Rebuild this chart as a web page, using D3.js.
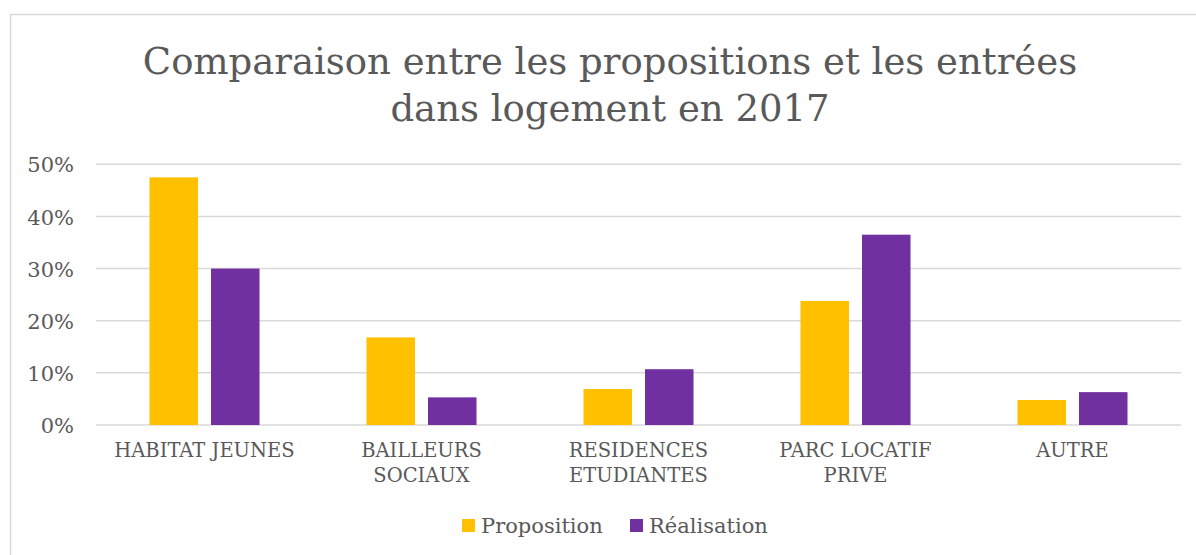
<!DOCTYPE html>
<html>
<head>
<meta charset="utf-8">
<script src="https://cdn.jsdelivr.net/npm/d3@7"></script>
<style>
  body { margin: 0; background: #fff; }
  text { font-family: "DejaVu Serif", serif; fill: #595959; }
</style>
</head>
<body>
<div id="app"></div>
<script>
// data
const categories = ["HABITAT JEUNES", "BAILLEURS SOCIAUX", "RESIDENCES ETUDIANTES", "PARC LOCATIF PRIVE", "AUTRE"];
const categoryLines = [["HABITAT JEUNES"], ["BAILLEURS", "SOCIAUX"], ["RESIDENCES", "ETUDIANTES"], ["PARC LOCATIF", "PRIVE"], ["AUTRE"]];
const seriesNames = ["Proposition", "Réalisation"];
const proposition = [0.475, 0.168, 0.069, 0.238, 0.048];
const realisation = [0.300, 0.053, 0.107, 0.365, 0.063];
const yTicks = [0, 0.1, 0.2, 0.3, 0.4, 0.5];
const titleLines = ["Comparaison entre les propositions et les entrées", "dans logement en 2017"];

const width = 1196
    , height = 555
    , colors = ["#FFC000", "#7030A0"];

const svg = d3.select("#app").append("svg")
    .attr("width", width)
    .attr("height", height);

// chart frame
svg.append("rect")
    .attr("x", 10.5).attr("y", 14.5)
    .attr("width", 1300).attr("height", 700)
    .attr("fill", "none")
    .attr("stroke", "#D9D9D9")
    .attr("stroke-width", 1.5);

const x0 = d3.scaleBand()
    .domain(categories)
    .range([96, 1181])
    .paddingInner(0.493)
    .paddingOuter(0.2465);

const x1 = d3.scaleBand()
    .domain(seriesNames)
    .range([0, x0.bandwidth()])
    .paddingInner(0.2114);

const y = d3.scaleLinear()
    .domain([0, 0.5])
    .range([425, 164.3]);

// gridlines
svg.append("g")
  .selectAll("line")
    .data(yTicks)
  .enter().append("line")
    .attr("x1", 96).attr("x2", 1181)
    .attr("y1", d => y(d)).attr("y2", d => y(d))
    .attr("stroke", "#D9D9D9")
    .attr("stroke-width", 1.5);

// y axis labels
const yAxis = svg.append("g")
    .attr("transform", "translate(96,0)")
    .call(d3.axisLeft(y).tickValues(yTicks).tickFormat(d3.format(".0%")).tickSize(0).tickPadding(22));
yAxis.select(".domain").remove();
yAxis.selectAll("text")
    .attr("font-family", null)
    .style("font-size", "21px")
    .attr("dy", "0.36em");

// bars
const series = [proposition, realisation];
const groups = svg.append("g")
  .selectAll("g")
    .data(categories)
  .enter().append("g")
    .attr("transform", d => `translate(${x0(d)},0)`);

groups.selectAll("rect")
    .data((d, i) => seriesNames.map((s, j) => ({ s, v: series[j][i], j })))
  .enter().append("rect")
    .attr("x", d => x1(d.s))
    .attr("width", x1.bandwidth())
    .attr("y", d => y(d.v))
    .attr("height", d => y(0) - y(d.v))
    .attr("fill", d => colors[d.j]);

// category labels
const catLabels = svg.append("g")
  .selectAll("text")
    .data(categories)
  .enter().append("text")
    .attr("x", d => x0(d) + x0.bandwidth() / 2)
    .attr("y", 457)
    .attr("text-anchor", "middle")
    .style("font-size", "19.5px");
catLabels.selectAll("tspan")
    .data((d, i) => categoryLines[i])
  .enter().append("tspan")
    .attr("x", function() { return this.parentNode.getAttribute("x"); })
    .attr("dy", (d, i) => i ? 25 : 0)
    .text(d => d);

// title
svg.append("g")
  .selectAll("text")
    .data(titleLines)
  .enter().append("text")
    .attr("x", 610)
    .attr("y", (d, i) => 74 + i * 47)
    .attr("text-anchor", "middle")
    .style("font-size", "37px")
    .text(d => d);

// legend
const legendX = [462, 630];
const legend = svg.append("g")
  .selectAll("g")
    .data(seriesNames)
  .enter().append("g")
    .attr("transform", (d, i) => `translate(${legendX[i]},519)`);
legend.append("rect")
    .attr("width", 13).attr("height", 13)
    .attr("fill", (d, i) => colors[i]);
legend.append("text")
    .attr("x", 19).attr("y", 14)
    .style("font-size", "21px")
    .text(d => d);
</script>
</body>
</html>
